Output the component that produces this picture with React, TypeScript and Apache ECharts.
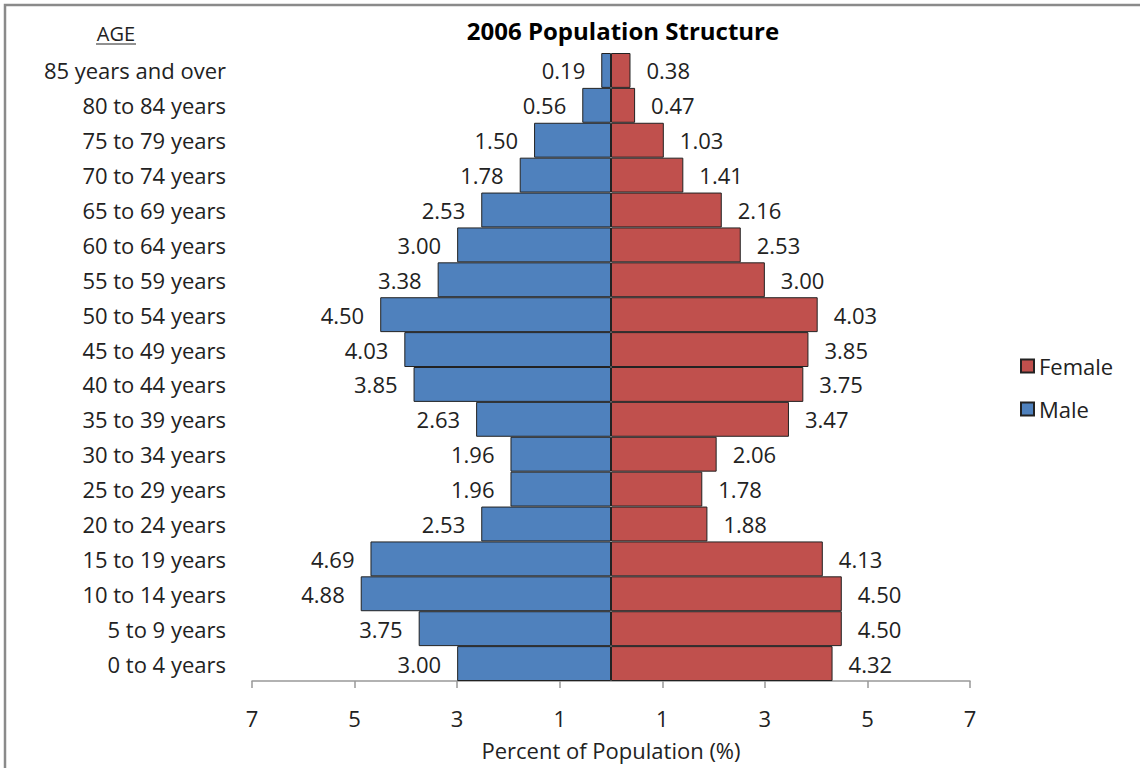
import React, { useEffect, useRef } from "react";
import * as echarts from "echarts";

const categories = [
  "0 to 4 years", "5 to 9 years", "10 to 14 years", "15 to 19 years", "20 to 24 years",
  "25 to 29 years", "30 to 34 years", "35 to 39 years", "40 to 44 years", "45 to 49 years",
  "50 to 54 years", "55 to 59 years", "60 to 64 years", "65 to 69 years", "70 to 74 years",
  "75 to 79 years", "80 to 84 years", "85 years and over",
];
const maleValues = [3.0, 3.75, 4.88, 4.69, 2.53, 1.96, 1.96, 2.63, 3.85, 4.03, 4.5, 3.38, 3.0, 2.53, 1.78, 1.5, 0.56, 0.19];
const femaleValues = [4.32, 4.5, 4.5, 4.13, 1.88, 1.78, 2.06, 3.47, 3.75, 3.85, 4.03, 3.0, 2.53, 2.16, 1.41, 1.03, 0.47, 0.38];
const xTicks = [-7, -5, -3, -1, 1, 3, 5, 7];

const FONT = "Open Sans";
const FS = 22;

export default function App() {
  const ref = useRef<HTMLDivElement>(null);
  useEffect(() => {
    const chart = echarts.init(ref.current!, null, { renderer: "svg" });
    chart.setOption({
      animation: false,
      backgroundColor: "#fff",
      textStyle: { fontFamily: FONT },
      title: {
        text: "2006 Population Structure",
        left: 618,
        textAlign: "center",
        top: 13,
        textStyle: { fontSize: 24, fontWeight: "bold", color: "#000", fontFamily: FONT },
      },
      legend: {
        data: ["Female", "Male"],
        orient: "vertical",
        left: 1015,
        top: 350,
        icon: "rect",
        itemWidth: 13,
        itemHeight: 13,
        itemGap: 21,
        textStyle: { fontSize: FS, color: "#222", fontFamily: FONT },
      },
      grid: { left: 252, right: 170, top: 53, bottom: 87 },
      xAxis: {
        type: "value",
        min: -7,
        max: 7,
        name: "Percent of Population (%)",
        nameLocation: "middle",
        nameGap: 58,
        nameTextStyle: { fontSize: FS, color: "#222", fontFamily: FONT },
        axisLine: { show: true, lineStyle: { color: "#999", width: 1.5 } },
        axisTick: { show: true, length: 7, customValues: xTicks, lineStyle: { color: "#999", width: 1.5 } },
        axisLabel: {
          customValues: xTicks,
          formatter: (v: number) => String(Math.abs(v)),
          fontSize: FS,
          color: "#222",
          margin: 26,
          fontFamily: FONT,
        },
        splitLine: { show: false },
      },
      yAxis: {
        type: "category",
        data: categories,
        axisLine: { show: false },
        axisTick: { show: false },
        axisLabel: { fontSize: FS, color: "#222", margin: 26, fontFamily: FONT },
      },
      series: [
        {
          name: "Male",
          type: "bar",
          stack: "pop",
          barCategoryGap: 0,
          data: maleValues.map((v) => -v),
          itemStyle: { color: "#4F81BD", borderColor: "#222", borderWidth: 1 },
          label: {
            show: true,
            position: "left",
            distance: 16,
            formatter: (p: any) => Math.abs(p.value).toFixed(2),
            fontSize: FS,
            color: "#222",
            fontFamily: FONT,
          },
        },
        {
          name: "Female",
          type: "bar",
          stack: "pop",
          barCategoryGap: 0,
          data: femaleValues,
          itemStyle: { color: "#C0504D", borderColor: "#222", borderWidth: 1 },
          label: {
            show: true,
            position: "right",
            distance: 16,
            formatter: (p: any) => Number(p.value).toFixed(2),
            fontSize: FS,
            color: "#222",
            fontFamily: FONT,
          },
        },
      ],
      graphic: [
        {
          type: "rect",
          shape: { x: 5, y: 5, width: 1200, height: 800 },
          style: { fill: "none", stroke: "#8a8a8a", lineWidth: 2.5 },
          silent: true,
        },
        {
          type: "text",
          x: 116,
          y: 33,
          style: { text: "AGE", fontSize: 20, fill: "#222", fontFamily: FONT, align: "center", verticalAlign: "middle" },
        },
        {
          type: "line",
          shape: { x1: 96, y1: 44, x2: 136, y2: 44 },
          style: { stroke: "#222", lineWidth: 1 },
        },
      ],
    });
    return () => chart.dispose();
  }, []);
  return <div ref={ref} style={{ position: "fixed", left: 0, top: 0, width: 1140, height: 768 }} />;
}
